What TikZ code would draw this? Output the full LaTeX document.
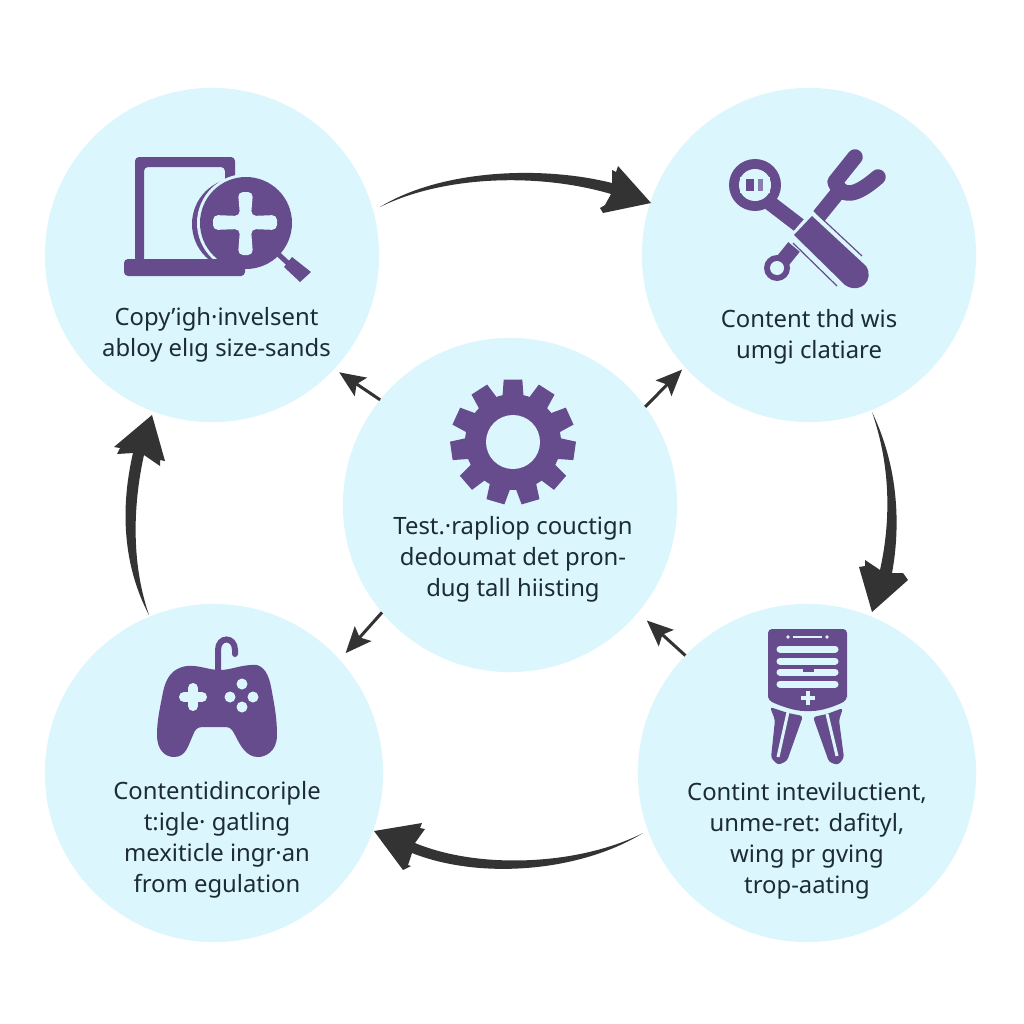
\documentclass[tikz,border=0pt]{standalone}
\usepackage{fontspec}
\setmainfont{Noto Sans}
\usetikzlibrary{arrows.meta}
\definecolor{disc}{HTML}{DCF6FD}
\definecolor{plum}{HTML}{664C8C}
\definecolor{ink}{HTML}{1C2B36}
\definecolor{arrowgrey}{HTML}{333333}
\tikzset{
  stagecircle/.style={circle,fill=disc,draw=none,inner sep=0pt,outer sep=0pt},
  caption/.style={align=center,text=ink,inner sep=0pt,font=\fontsize{6.78}{8.85}\selectfont},
  spoke/.style={draw=arrowgrey,line width=.03cm,-{Stealth[length=.26cm,width=.22cm,inset=.05cm]}},
  sweep/.style={fill=arrowgrey,draw=none},
  iconfill/.style={fill=plum,draw=none},
  iconcut/.style={fill=disc,draw=none},
}
\begin{document}
\begin{tikzpicture}[x=.01cm,y=-.01cm]
\useasboundingbox (0,0) rectangle (1024,1024);
\fill[white] (0,0) rectangle (1024,1024);

% stage discs
\node[stagecircle,minimum size=3.34cm] (tl) at (212,255) {};
\node[stagecircle,minimum size=3.34cm] (tr) at (809,255) {};
\node[stagecircle,minimum size=3.34cm] (c)  at (510,505) {};
\node[stagecircle,minimum size=3.38cm] (bl) at (214,773) {};
\node[stagecircle,minimum size=3.38cm] (br) at (807,773) {};

% captions
\node[caption] (captl) at (216.5,335) {Copy'igh·invelsent\\abloy elıg size-sands};
\node[caption] (captr) at (809,336.5) {Content thd wis\\umgi clatiare};
\node[caption] (capc)  at (513,559.5) {Test.·rapliop couctign\\dedoumat det pron-\\dug tall hiisting};
\node[caption] (capbl) at (217,840) {Contentidincoriple\\t:igle· gatling\\mexiticle ingr·an\\from egulation};
\node[caption] (capbr) at (807,841) {Contint inteviluctient,\\unme-ret: dafityl,\\wing pr gving\\trop-aating};

% short arrows around the centre disc
\draw[spoke,shorten >=.06cm] (c.141.8) -- (tl.-43);
\draw[spoke,shorten >=.04cm] (c.36.6) -- (tr.-138.1);
\draw[spoke,shorten >=.09cm] (c.220.7) -- (bl.42.7);
\draw[spoke,shorten >=.12cm] (br.136.9) -- (c.-40.7);

% sweeping arrows of the outer cycle
\coordinate (tailA) at (380,207); \coordinate (tipA) at (651,203);
\coordinate (tailB) at (872,412); \coordinate (tipB) at (872,612);
\coordinate (tailC) at (643,833); \coordinate (tipC) at (374,831);
\coordinate (tailD) at (149,615); \coordinate (tipD) at (152,415);
\fill[sweep] (tailA) .. controls (440,170) and (540,165) .. (612,183)
  -- (612,170) -- (616,172) -- (618,166) -- (tipA) -- (603,213) -- (600,208) -- (605,205) -- (611,194)
  .. controls (540,173) and (445,175) .. (tailA) -- cycle;
\fill[sweep] (tailB) .. controls (900,470) and (900,530) .. (892,573)
  -- (903,573) -- (908,580) -- (tipB) -- (859,567) -- (865,566) -- (865,560) -- (880,570)
  .. controls (890,525) and (892,470) .. (tailB) -- cycle;
\fill[sweep] (tailC) .. controls (580,865) and (480,870) .. (415,843)
  -- (425,829) -- (420,828) -- (422,823) -- (tipC) -- (403,870) -- (411,866) -- (408,865) -- (412,853)
  .. controls (480,880) and (580,872) .. (tailC) -- cycle;
\fill[sweep] (tailD) .. controls (120,560) and (122,500) .. (133,453)
  -- (117,454) -- (120,448) -- (114,447) -- (tipD) -- (165,461) -- (160,460) -- (160,466) -- (144,455)
  .. controls (134,500) and (130,560) .. (tailD) -- cycle;

% laptop with magnifier
\fill[iconfill,rounded corners=.04cm] (135,262) -- (135,157) -- (235,157) -- (235,190) -- (225,190) -- (225,167) -- (144,167) -- (144,262) -- cycle;
\fill[iconfill] (238,224) circle (46);
\fill[disc] (246,223) circle (49);
\fill[iconfill,rounded corners=.04cm] (124,259) rectangle (245,276);
\fill[iconfill] (246,223) circle (46);
\draw[plum,line width=.05cm] (277,253) -- (290,265);
\fill[iconfill] (292,257) -- (311,272) -- (300,282) -- (284,267) -- cycle;
\fill[iconcut,rounded corners=.05cm]
  (238,192) -- (253,192) -- (251,216) -- (277,215) -- (277,230) -- (251,229) -- (253,255)
  -- (238,255) -- (240,229) -- (213,230) -- (213,215) -- (240,216) -- cycle;

% crossed wrench and fork
\draw[plum,line width=.155cm,line cap=round,line join=round]
  (855,157) -- (835,182) .. controls (842,198) and (855,197) .. (878,177);
\draw[plum,line width=.15cm] (840,190) -- (777,268);
\fill[iconfill] (777,268) circle (13);
\fill[iconcut] (777,268) circle (7);
\fill[iconfill] (755,185) circle (26);
\fill[iconcut] (755,185) circle (16);
\draw[plum,line width=.15cm] (770,203) -- (800,226);
\fill[iconcut] (786,240) -- (812,210) -- (868,262) -- (843,288) -- cycle;
\fill[iconfill] (794,235) -- (812,216) -- (866,266) .. controls (875,280) and (860,295) .. (845,285) -- cycle;
\draw[plum,line width=.012cm] (816,213) -- (862,256);
\draw[plum,line width=.012cm] (793,243) -- (837,286);
\fill[iconcut] (740,177) rectangle (770,193);
\fill[iconfill] (746,179) rectangle (754,191);
\fill[plum!70!disc] (758,179) rectangle (763,191);

% settings gear: eleven teeth rooted inside a solid ring
\fill[iconfill] (513,442) circle (48);
\foreach \k in {0,...,10}{
  \pgfmathsetmacro{\a}{90+\k*360/11}
  \fill[iconfill] ({513+42*cos(\a-15)},{442-42*sin(\a-15)})
    -- ({513+63*cos(\a-8.5)},{442-63*sin(\a-8.5)})
    -- ({513+63*cos(\a+8.5)},{442-63*sin(\a+8.5)})
    -- ({513+42*cos(\a+15)},{442-42*sin(\a+15)}) -- cycle;
}
\fill[iconcut] (513,442) circle (27);

% game controller
\draw[plum,line width=.06cm,line cap=round] (218,672) -- (218,650) .. controls (218,636) and (235,636) .. (235,650) -- (235,654);
\fill[iconfill] (187,666) .. controls (200,665) and (208,670) .. (220,670)
  .. controls (232,670) and (242,664) .. (257,665)
  .. controls (267,668) and (270,680) .. (272,692)
  .. controls (275,708) and (277,720) .. (277,735)
  .. controls (277,752) and (265,757) .. (258,757)
  .. controls (246,757) and (240,745) .. (235,735)
  .. controls (232,729) and (230,727) .. (225,727)
  -- (203,727) .. controls (198,727) and (195,729) .. (193,735)
  .. controls (188,746) and (186,757) .. (174,757)
  .. controls (165,757) and (157,750) .. (157,735)
  .. controls (157,720) and (160,708) .. (163,692)
  .. controls (166,678) and (172,668) .. (187,666) -- cycle;
\draw[disc,line width=.1cm,line cap=round] (184,697) -- (202,697) (193,688) -- (193,706);
\foreach \bx/\by in {242/684,230/697,253/697,242/707}{\fill[iconcut] (\bx,\by) circle (5.5);}

% clipboard with legs
\fill[iconfill,rounded corners=.04cm] (768,700) -- (768,629) -- (847,629) -- (847,700) -- (847,700) .. controls (834,707) and (820,711) .. (808,711) .. controls (795,711) and (780,706) .. (768,700) -- cycle;
\foreach \yy in {649,661,672,684}{\draw[disc,line width=.07cm,line cap=round] (780,\yy) -- (835,\yy);}
\fill[iconfill] (803,668) rectangle (814,672);
\fill[iconcut] (788,637) circle (1.8);
\fill[iconcut] (827,637) circle (1.8);
\draw[disc,line width=.015cm] (793,637) -- (822,637);
\draw[disc,line width=.045cm] (801,698) -- (815,698) (808,691) -- (808,705);
\fill[iconfill,rounded corners=.03cm] (770,707) -- (788,713) -- (803,716) -- (787,761) -- (778,765) -- (771,758) -- (775,720) -- cycle;
\fill[iconfill,rounded corners=.03cm] (843,708) -- (827,714) -- (813,717) -- (829,762) -- (838,765) -- (844,758) -- (839,720) -- cycle;
\draw[disc,line width=.03cm] (788,712) -- (778,757);
\draw[disc,line width=.03cm] (827,714) -- (837,756);
\end{tikzpicture}
\end{document}
